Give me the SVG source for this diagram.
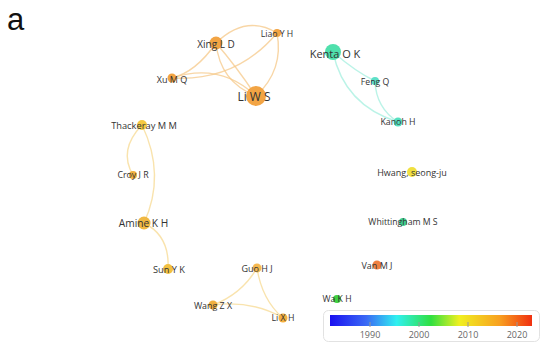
<svg xmlns="http://www.w3.org/2000/svg" width="550" height="360" viewBox="0 0 550 360">
<defs>
<linearGradient id="yr" x1="0" y1="0" x2="1" y2="0">
<stop offset="0" stop-color="#1a10f0"/>
<stop offset="0.18" stop-color="#3a6af5"/>
<stop offset="0.33" stop-color="#30f0f0"/>
<stop offset="0.5" stop-color="#30e040"/>
<stop offset="0.64" stop-color="#f0f020"/>
<stop offset="0.84" stop-color="#f8a020"/>
<stop offset="1" stop-color="#f03010"/>
</linearGradient>
</defs>
<style>
.lbl{font-family:"Open Sans","Liberation Sans",sans-serif;fill:#333;text-anchor:middle;dominant-baseline:central}
.e{fill:none;stroke-width:1.4;stroke-linecap:round}
.eo{stroke:#f5c888;stroke-opacity:0.75}
.ey{stroke:#f8dc98;stroke-opacity:0.8}
.ec{stroke:#b4f2e4;stroke-opacity:0.9}
.tick{stroke:#999;stroke-width:1}
.tl{font-family:"Open Sans","Liberation Sans",sans-serif;font-size:9px;fill:#666;text-anchor:middle}
</style>
<rect width="550" height="360" fill="#fff"/>
<text x="7" y="30" font-family="Liberation Sans, Arial, sans-serif" font-size="31" fill="#111">a</text>
<g id="connectors">
<path class="e eo" d="M216,43 Q246,14 277,33"/>
<path class="e eo" d="M277,33 Q284,70 256,96"/>
<path class="e eo" d="M172,78 Q196,72 216,43"/>
<path class="e eo" d="M172,78 Q236,82 277,33"/>
<path class="e eo" d="M172,78 Q220,62 256,96"/>
<path class="e eo" d="M216,43 Q236,66 256,96"/>
<path class="e eo" d="M216,43 Q220,82 256,96"/>
<path class="e ec" d="M333,52 Q356,72 375,81"/>
<path class="e ec" d="M333,52 Q344,105 398,122"/>
<path class="e ec" d="M375,81 Q376,108 398,122"/>
<path class="e ey" d="M142,125 Q118,150 133,175"/>
<path class="e ey" d="M142,125 Q166,175 144,223"/>
<path class="e ey" d="M144,223 Q170,236 168,269"/>
<path class="e ey" d="M257,268 Q242,294 213,305"/>
<path class="e ey" d="M257,268 Q262,300 283,318"/>
<path class="e ey" d="M213,305 Q252,300 283,318"/>
</g>
<g id="n-xing"><circle cx="216" cy="43" r="6.5" fill="#f2a444"/><text class="lbl" x="216" y="44" font-size="10">Xing L D</text></g>
<g id="n-liao"><circle cx="277" cy="33" r="4" fill="#f2a444"/><text class="lbl" x="277" y="34" font-size="8.7">Liao Y H</text></g>
<g id="n-xu"><circle cx="172" cy="78" r="4.5" fill="#f2a444"/><text class="lbl" x="172" y="79" font-size="9">Xu M Q</text></g>
<g id="n-liws"><circle cx="256" cy="96" r="10" fill="#f2a444"/><text class="lbl" x="254" y="96" font-size="12">Li W S</text></g>
<g id="n-kenta"><circle cx="333" cy="52" r="8" fill="#4fe0ac"/><text class="lbl" x="335" y="53" font-size="11">Kenta O K</text></g>
<g id="n-feng"><circle cx="375" cy="81" r="4" fill="#5ee0c8"/><text class="lbl" x="375" y="82" font-size="8.7">Feng Q</text></g>
<g id="n-kanoh"><circle cx="398" cy="122" r="4.5" fill="#55e0c0"/><text class="lbl" x="398" y="122" font-size="8.8">Kanoh H</text></g>
<g id="n-thackeray"><circle cx="142" cy="125" r="5" fill="#f5c842"/><text class="lbl" x="144" y="125" font-size="9.3">Thackeray M M</text></g>
<g id="n-croy"><circle cx="133" cy="175" r="4" fill="#f0b040"/><text class="lbl" x="133" y="175" font-size="8.8">Croy J R</text></g>
<g id="n-amine"><circle cx="144" cy="223" r="6.5" fill="#f0b842"/><text class="lbl" x="143.5" y="223" font-size="10.2">Amine K H</text></g>
<g id="n-sun"><circle cx="168" cy="269" r="5" fill="#f2c040"/><text class="lbl" x="169" y="269" font-size="9.2">Sun Y K</text></g>
<g id="n-guo"><circle cx="257" cy="268" r="4.5" fill="#f5b850"/><text class="lbl" x="257" y="268" font-size="9">Guo H J</text></g>
<g id="n-wang"><circle cx="213" cy="305" r="4.5" fill="#f0b040"/><text class="lbl" x="213" y="305" font-size="8.9">Wang Z X</text></g>
<g id="n-lixh"><circle cx="283" cy="318" r="4.5" fill="#f4b040"/><text class="lbl" x="283" y="318" font-size="8.8">Li X H</text></g>
<g id="n-hwang"><circle cx="412" cy="172" r="5" fill="#f0e040"/><text class="lbl" x="412" y="172" font-size="9">Hwang, seong-ju</text></g>
<g id="n-whittingham"><circle cx="403" cy="222" r="4" fill="#40d090"/><text class="lbl" x="403" y="222" font-size="8.7">Whittingham M S</text></g>
<g id="n-van"><circle cx="377" cy="265" r="4.5" fill="#f08040"/><text class="lbl" x="377" y="265" font-size="9">Van M J</text></g>
<g id="n-wa"><circle cx="337" cy="299" r="4" fill="#40d040"/><text class="lbl" x="337" y="299" font-size="8.7">Wa K H</text></g>
<g id="legend">
<rect x="323.5" y="310.5" width="216" height="31" rx="5" fill="#fff" stroke="#e2e2e2"/>
<rect x="330" y="315" width="202" height="11" fill="url(#yr)"/>
<line class="tick" x1="370" y1="322" x2="370" y2="327"/>
<line class="tick" x1="419" y1="322" x2="419" y2="327"/>
<line class="tick" x1="468" y1="322" x2="468" y2="327"/>
<line class="tick" x1="517" y1="322" x2="517" y2="327"/>
<text class="tl" x="370" y="338">1990</text>
<text class="tl" x="419" y="338">2000</text>
<text class="tl" x="468" y="338">2010</text>
<text class="tl" x="517" y="338">2020</text>
</g>
</svg>
